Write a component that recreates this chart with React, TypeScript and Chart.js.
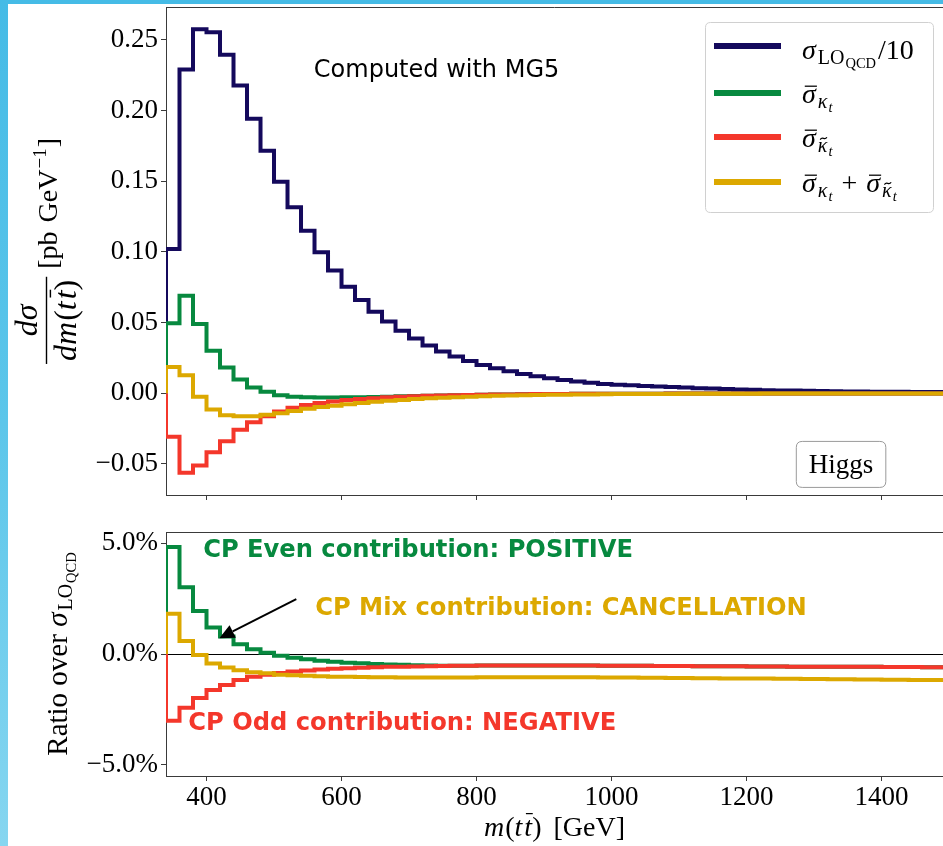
import React, { useEffect, useRef } from 'react';
import { Chart, registerables } from 'chart.js';

Chart.register(...registerables);

// ---------------- data ----------------
const binEdges = [
  340, 360, 380, 400, 420, 440, 460, 480, 500, 520,
  540, 560, 580, 600, 620, 640, 660, 680, 700, 720,
  740, 760, 780, 800, 820, 840, 860, 880, 900, 920,
  940, 960, 980, 1000, 1020, 1040, 1060, 1080, 1100, 1120,
  1140, 1160, 1180, 1200, 1220, 1240, 1260, 1280, 1300, 1320,
  1340, 1360, 1380, 1400, 1420, 1440, 1460, 1480,
];
const binEnd = 1500;

// sigma_LO_QCD / 10  [pb/GeV]
const sigmaLOover10 = [
  0.102, 0.229, 0.2576, 0.2555, 0.2395, 0.2177, 0.1942, 0.1715, 0.1497, 0.1316,
  0.115, 0.0997, 0.0868, 0.0754, 0.066, 0.0577, 0.0507, 0.0443, 0.0388, 0.0337,
  0.0296, 0.026, 0.0229, 0.02, 0.0176, 0.0155, 0.0136, 0.012, 0.0106, 0.0094,
  0.0083, 0.0074, 0.0066, 0.006, 0.0056, 0.0052, 0.0048, 0.0044, 0.004, 0.0036,
  0.0033, 0.003, 0.0027, 0.0025, 0.0022, 0.002, 0.0019, 0.0017, 0.0016, 0.0014,
  0.0013, 0.0012, 0.0011, 0.001, 0.001, 0.0009, 0.0008, 0.0008,
];
// sigma-bar kappa_t (CP even)
const sigmaKt = [
  0.0495, 0.069, 0.049, 0.03, 0.0182, 0.0098, 0.0041, 0.001, -0.0015, -0.0024,
  -0.0029, -0.003, -0.003, -0.0029, -0.0028, -0.0026, -0.0024, -0.0022, -0.002, -0.0018,
  -0.0016, -0.0014, -0.0012, -0.0011, -0.0009, -0.0008, -0.0007, -0.0006, -0.0006, -0.0005,
  -0.0004, -0.0004, -0.0003, -0.0003, -0.0003, -0.0003, -0.0003, -0.0002, -0.0002, -0.0002,
  -0.0002, -0.0002, -0.0001, -0.0001, -0.0001, -0.0001, -0.0001, -0.0001, -0.0001, -0.0001,
  -0.0001, -0.0001, -0.0001, -0.0001, -0.0001, -0.0001, -0.0001, -0.0001,
];
// sigma-bar kappa-tilde_t (CP odd)
const sigmaKtTilde = [
  -0.0307, -0.0562, -0.0512, -0.0418, -0.034, -0.0258, -0.0205, -0.0163, -0.013, -0.0103,
  -0.0083, -0.0069, -0.0058, -0.0048, -0.0041, -0.0035, -0.0029, -0.0025, -0.0022, -0.0018,
  -0.0016, -0.0014, -0.0012, -0.001, -0.0009, -0.0008, -0.0007, -0.0006, -0.0006, -0.0005,
  -0.0004, -0.0004, -0.0003, -0.0003, -0.0003, -0.0003, -0.0003, -0.0002, -0.0002, -0.0002,
  -0.0002, -0.0002, -0.0002, -0.0001, -0.0001, -0.0001, -0.0001, -0.0001, -0.0001, -0.0001,
  -0.0001, -0.0001, -0.0001, -0.0001, -0.0001, -0.0001, -0.0001, -0.0001,
];
// sum (CP mix)
const sigmaSum = [
  0.0186, 0.0127, -0.0024, -0.0115, -0.0156, -0.0162, -0.0162, -0.0153, -0.0142, -0.0125,
  -0.011, -0.0098, -0.0088, -0.0077, -0.0069, -0.0061, -0.0053, -0.0047, -0.0041, -0.0036,
  -0.0032, -0.0028, -0.0024, -0.0021, -0.0018, -0.0016, -0.0014, -0.0013, -0.0011, -0.001,
  -0.0009, -0.0008, -0.0007, -0.0006, -0.0006, -0.0005, -0.0005, -0.0005, -0.0004, -0.0004,
  -0.0004, -0.0003, -0.0003, -0.0003, -0.0002, -0.0002, -0.0002, -0.0002, -0.0002, -0.0002,
  -0.0001, -0.0001, -0.0001, -0.0001, -0.0001, -0.0001, -0.0001, -0.0001,
];
// ratios over sigma_LO_QCD [%]
const ratioKt = [
  4.82, 3.01, 1.94, 1.19, 0.79, 0.44, 0.21, 0.06, -0.08, -0.17,
  -0.24, -0.3, -0.35, -0.39, -0.42, -0.45, -0.47, -0.49, -0.51, -0.52,
  -0.53, -0.53, -0.53, -0.52, -0.52, -0.52, -0.52, -0.52, -0.52, -0.52,
  -0.52, -0.52, -0.53, -0.53, -0.53, -0.53, -0.54, -0.54, -0.54, -0.55,
  -0.55, -0.55, -0.55, -0.56, -0.56, -0.56, -0.57, -0.57, -0.57, -0.58,
  -0.58, -0.58, -0.58, -0.59, -0.59, -0.59, -0.6, -0.6,
];
const ratioKtTilde = [
  -3.01, -2.42, -1.98, -1.62, -1.4, -1.17, -1.03, -0.93, -0.86, -0.79,
  -0.74, -0.7, -0.67, -0.64, -0.62, -0.6, -0.58, -0.57, -0.56, -0.55,
  -0.54, -0.53, -0.53, -0.52, -0.52, -0.52, -0.52, -0.52, -0.52, -0.52,
  -0.52, -0.52, -0.53, -0.53, -0.53, -0.53, -0.54, -0.54, -0.54, -0.55,
  -0.55, -0.55, -0.55, -0.56, -0.56, -0.56, -0.57, -0.57, -0.57, -0.58,
  -0.58, -0.58, -0.58, -0.59, -0.59, -0.59, -0.6, -0.6,
];
const ratioSum = [
  1.81, 0.59, -0.04, -0.43, -0.61, -0.73, -0.82, -0.87, -0.94, -0.96,
  -0.98, -1.0, -1.02, -1.03, -1.04, -1.05, -1.05, -1.06, -1.06, -1.06,
  -1.06, -1.06, -1.06, -1.05, -1.05, -1.05, -1.05, -1.05, -1.05, -1.05,
  -1.05, -1.05, -1.06, -1.06, -1.06, -1.07, -1.07, -1.08, -1.08, -1.09,
  -1.09, -1.1, -1.1, -1.11, -1.11, -1.12, -1.12, -1.13, -1.13, -1.14,
  -1.14, -1.15, -1.15, -1.16, -1.16, -1.17, -1.17, -1.17,
];

const xTicks = [400, 600, 800, 1000, 1200, 1400];
const topYTicks = [-0.05, 0, 0.05, 0.1, 0.15, 0.2, 0.25];
const ratioYTicks = [-5, 0, 5];
const xRange = [340, 1491];
const topYRange = [-0.072, 0.2733];
const ratioYRange = [-5.5, 5.5];

const annotationTop = 'Computed with MG5';
const boxLabel = 'Higgs';
const cpEven = 'CP Even contribution: POSITIVE';
const cpMix = 'CP Mix contribution: CANCELLATION';
const cpOdd = 'CP Odd contribution: NEGATIVE';

// ---------------- styling ----------------
const C_LO = '#14095c';
const C_KT = '#07893f';
const C_KTT = '#f4372b';
const C_SUM = '#dca800';
const AXIS = '#3a3a3a';
const SERIF = '"Liberation Serif", "Times New Roman", serif';
const SANS = '"DejaVu Sans", sans-serif';

type Run = { t: string; s: number; it?: boolean; dy?: number; bar?: number; tilde?: boolean; pre?: number; post?: number };

const fontOf = (r: Run) => `${r.it ? 'italic ' : ''}${r.s}px ${SERIF}`;

function drawRuns(ctx: CanvasRenderingContext2D, runs: Run[], x: number, y: number, draw = true) {
  let cx = x;
  ctx.textAlign = 'left';
  ctx.textBaseline = 'alphabetic';
  for (const r of runs) {
    ctx.font = fontOf(r);
    cx += r.pre || 0;
    const w = ctx.measureText(r.t).width;
    const by = y + (r.dy || 0);
    if (draw) {
      ctx.fillText(r.t, cx, by);
      if (r.bar) {
        const yy = by - r.s * r.bar;
        ctx.lineWidth = Math.max(1, r.s * 0.045);
        ctx.beginPath();
        ctx.moveTo(cx + w * 0.2, yy);
        ctx.lineTo(cx + w * 1.08, yy);
        ctx.stroke();
      }
      if (r.tilde) {
        const tx = cx + w * 0.25, tw = w * 0.7, ty = by - r.s * 0.68, a = r.s * 0.06;
        ctx.lineWidth = Math.max(1, r.s * 0.06);
        ctx.beginPath();
        ctx.moveTo(tx, ty + a);
        ctx.bezierCurveTo(tx + tw * 0.35, ty - a * 2.2, tx + tw * 0.65, ty + a * 2.2, tx + tw, ty - a);
        ctx.stroke();
      }
    }
    cx += w + (r.post || 0);
  }
  return cx - x;
}

const S = 28, SUB = 20, SUBSUB = 14.5;
const runSigmaLO: Run[] = [
  { t: 'σ', s: S, it: true, post: 1 },
  { t: 'LO', s: SUB, dy: 5, pre: 1 },
  { t: 'QCD', s: SUBSUB, dy: 9, pre: 1 },
];
const runSigKt: Run[] = [
  { t: 'σ', s: S, it: true, bar: 0.6 },
  { t: 'κ', s: SUB, it: true, dy: 5, pre: 2 },
  { t: 't', s: SUBSUB, it: true, dy: 9, pre: 1 },
];
const runSigKtt: Run[] = [
  { t: 'σ', s: S, it: true, bar: 0.6 },
  { t: 'κ', s: SUB, it: true, dy: 5, pre: 2, tilde: true },
  { t: 't', s: SUBSUB, it: true, dy: 9, pre: 1 },
];
const legendLabels: Run[][] = [
  [...runSigmaLO, { t: '/10', s: S, pre: 2 }],
  runSigKt,
  runSigKtt,
  [...runSigKt, { t: ' + ', s: S, pre: 2, post: 2 }, ...runSigKtt],
];
const legendColors = [C_LO, C_KT, C_KTT, C_SUM];

const fmt = (v: number, d: number, suffix = '') =>
  (v < 0 ? '\u2212' + Math.abs(v).toFixed(d) : v.toFixed(d)) + suffix;

const stepData = (vals: number[]) => [
  { x: binEdges[0], y: 0 },
  ...binEdges.map((e, i) => ({ x: e, y: vals[i] })),
  { x: binEnd, y: vals[vals.length - 1] },
];

const ds = (label: string, vals: number[], color: string, order: number) => ({
  label,
  data: stepData(vals),
  borderColor: color,
  backgroundColor: color,
  borderWidth: 4,
  pointRadius: 0,
  stepped: 'before',
  fill: false,
  order,
  clip: 0,
  borderJoinStyle: 'miter',
  borderCapStyle: 'butt',
});

const gridOpts = { drawOnChartArea: false, drawTicks: true, tickLength: 5, tickColor: AXIS, lineWidth: 1 };
const borderOpts = { display: true, color: AXIS, width: 1 };
const tickFont = { family: SERIF, size: 27 };

function zeroPad(s: any) {
  s.paddingTop = 0;
  s.paddingBottom = 0;
  s.paddingLeft = 0;
  s.paddingRight = 0;
}

function xScale(showLabels: boolean, height: number): any {
  return {
    type: 'linear',
    min: xRange[0],
    max: xRange[1],
    afterBuildTicks: (s: any) => { s.ticks = xTicks.map((v) => ({ value: v })); },
    afterFit: (s: any) => { s.height = height; zeroPad(s); },
    grid: gridOpts,
    border: borderOpts,
    ticks: {
      display: showLabels,
      font: tickFont,
      color: '#000',
      padding: 1,
      maxRotation: 0,
      autoSkip: false,
      callback: (v: number) => String(v),
    },
  };
}

function frameTop(chart: any) {
  const { ctx, chartArea } = chart;
  ctx.save();
  ctx.strokeStyle = AXIS;
  ctx.lineWidth = 1;
  const y = Math.round(chartArea.top) + 0.5;
  ctx.beginPath();
  ctx.moveTo(chartArea.left, y);
  ctx.lineTo(chartArea.right, y);
  ctx.stroke();
  ctx.restore();
}

function roundRect(ctx: CanvasRenderingContext2D, x: number, y: number, w: number, h: number, r: number) {
  ctx.beginPath();
  ctx.moveTo(x + r, y);
  ctx.lineTo(x + w - r, y);
  ctx.quadraticCurveTo(x + w, y, x + w, y + r);
  ctx.lineTo(x + w, y + h - r);
  ctx.quadraticCurveTo(x + w, y + h, x + w - r, y + h);
  ctx.lineTo(x + r, y + h);
  ctx.quadraticCurveTo(x, y + h, x, y + h - r);
  ctx.lineTo(x, y + r);
  ctx.quadraticCurveTo(x, y, x + r, y);
  ctx.closePath();
}

const topPlugin = {
  id: 'topDecor',
  afterDraw(chart: any) {
    const { ctx, scales } = chart;
    const xs = scales.x, ys = scales.y;
    frameTop(chart);
    ctx.save();

    // legend
    const lx = 705, ly = 22, lw = 228, lh = 190;
    roundRect(ctx, lx + 0.5, ly + 0.5, lw, lh, 5);
    ctx.fillStyle = 'rgba(255,255,255,0.85)';
    ctx.fill();
    ctx.strokeStyle = '#d0d0d0';
    ctx.lineWidth = 1;
    ctx.stroke();
    const rowY = [46, 93, 137, 182];
    legendLabels.forEach((runs, i) => {
      ctx.strokeStyle = legendColors[i];
      ctx.lineWidth = 6;
      ctx.beginPath();
      ctx.moveTo(714, rowY[i]);
      ctx.lineTo(781, rowY[i]);
      ctx.stroke();
      ctx.fillStyle = '#000';
      ctx.strokeStyle = '#000';
      drawRuns(ctx, runs, 802, rowY[i] + (i === 0 ? 13 : 10));
    });

    // annotation text
    ctx.fillStyle = '#000';
    ctx.font = `24px ${SANS}`;
    ctx.textAlign = 'left';
    ctx.textBaseline = 'alphabetic';
    ctx.fillText(annotationTop, xs.getPixelForValue(559), ys.getPixelForValue(0.2235));

    // Higgs box
    const hx = xs.getPixelForValue(1340), hy = ys.getPixelForValue(-0.05);
    ctx.font = `27px ${SERIF}`;
    const hw = ctx.measureText(boxLabel).width;
    roundRect(ctx, hx - hw / 2 - 12.5, hy - 22.5, hw + 25, 46, 6);
    ctx.fillStyle = '#fff';
    ctx.fill();
    ctx.strokeStyle = '#9a9a9a';
    ctx.lineWidth = 1;
    ctx.stroke();
    ctx.fillStyle = '#000';
    ctx.textAlign = 'center';
    ctx.fillText(boxLabel, hx, hy + 9);

    // y axis label (rotated)
    ctx.fillStyle = '#000';
    ctx.strokeStyle = '#000';
    const num: Run[] = [{ t: 'dσ', s: 32, it: true }];
    const den: Run[] = [
      { t: 'dm', s: 32, it: true, post: 1 },
      { t: '(', s: 32 },
      { t: 't', s: 32, it: true, post: 2 },
      { t: 't', s: 32, it: true, bar: 0.8 },
      { t: ')', s: 32 },
    ];
    const unit: Run[] = [
      { t: '[pb', s: 28 },
      { t: ' GeV', s: 28, pre: 2 },
      { t: '\u22121', s: 19, dy: -11, pre: 1 },
      { t: ']', s: 28, pre: 1 },
    ];
    const numW = drawRuns(ctx, num, 0, 0, false);
    const denW = drawRuns(ctx, den, 0, 0, false);
    const unitW = drawRuns(ctx, unit, 0, 0, false);
    const fracW = Math.max(numW, denW) + 6;
    const gap = 8;
    const L = fracW + gap + unitW;
    const cy = (chart.chartArea.top + chart.chartArea.bottom) / 2;
    ctx.save();
    ctx.translate(0, cy);
    ctx.rotate(-Math.PI / 2);
    const lx0 = -L / 2;
    drawRuns(ctx, num, lx0 + (fracW - numW) / 2, 37);
    ctx.lineWidth = 1.4;
    ctx.beginPath();
    ctx.moveTo(lx0, 46.5);
    ctx.lineTo(lx0 + fracW, 46.5);
    ctx.stroke();
    drawRuns(ctx, den, lx0 + (fracW - denW) / 2, 76);
    drawRuns(ctx, unit, lx0 + fracW + gap, 57);
    ctx.restore();

    ctx.restore();
  },
};

const bottomPlugin = {
  id: 'bottomDecor',
  beforeDatasetsDraw(chart: any) {
    const { ctx, chartArea, scales } = chart;
    const y0 = Math.round(scales.y.getPixelForValue(0)) + 0.5;
    ctx.save();
    ctx.strokeStyle = '#000';
    ctx.lineWidth = 1.2;
    ctx.beginPath();
    ctx.moveTo(chartArea.left, y0);
    ctx.lineTo(chartArea.right, y0);
    ctx.stroke();
    ctx.restore();
  },
  afterDraw(chart: any) {
    const { ctx, scales, chartArea } = chart;
    const xs = scales.x, ys = scales.y;
    frameTop(chart);
    ctx.save();

    ctx.font = `bold 24.2px ${SANS}`;
    ctx.textAlign = 'left';
    ctx.textBaseline = 'alphabetic';
    ctx.fillStyle = C_KT;
    ctx.fillText(cpEven, xs.getPixelForValue(395), ys.getPixelForValue(4.38));
    ctx.fillStyle = C_SUM;
    ctx.fillText(cpMix, xs.getPixelForValue(561), ys.getPixelForValue(1.76));
    ctx.fillStyle = C_KTT;
    ctx.fillText(cpOdd, xs.getPixelForValue(373), ys.getPixelForValue(-3.43));

    // arrow
    const ax0 = xs.getPixelForValue(533), ay0 = ys.getPixelForValue(2.47);
    const ax1 = xs.getPixelForValue(419), ay1 = ys.getPixelForValue(0.71);
    const ang = Math.atan2(ay1 - ay0, ax1 - ax0);
    const hl = 15, hw = 7;
    const bx = ax1 - hl * Math.cos(ang), by = ay1 - hl * Math.sin(ang);
    ctx.strokeStyle = '#000';
    ctx.fillStyle = '#000';
    ctx.lineWidth = 2;
    ctx.beginPath();
    ctx.moveTo(ax0, ay0);
    ctx.lineTo(bx, by);
    ctx.stroke();
    ctx.beginPath();
    ctx.moveTo(ax1, ay1);
    ctx.lineTo(bx + hw * Math.sin(ang), by - hw * Math.cos(ang));
    ctx.lineTo(bx - hw * Math.sin(ang), by + hw * Math.cos(ang));
    ctx.closePath();
    ctx.fill();

    // y label (rotated)
    ctx.fillStyle = '#000';
    ctx.strokeStyle = '#000';
    const yl: Run[] = [
      { t: 'Ratio over ', s: 29 },
      { t: 'σ', s: 29, it: true, post: 1 },
      { t: 'LO', s: 20, dy: 5, pre: 1 },
      { t: 'QCD', s: 14.5, dy: 9, pre: 1 },
    ];
    const ylW = drawRuns(ctx, yl, 0, 0, false);
    const cy = (chartArea.top + chartArea.bottom) / 2;
    ctx.save();
    ctx.translate(0, cy);
    ctx.rotate(-Math.PI / 2);
    drawRuns(ctx, yl, -ylW / 2, 67);
    ctx.restore();

    // x label
    const xl: Run[] = [
      { t: 'm', s: 28, it: true, post: 1 },
      { t: '(', s: 28 },
      { t: 't', s: 28, it: true, post: 2 },
      { t: 't', s: 28, it: true, bar: 0.8 },
      { t: ')', s: 28 },
      { t: ' [GeV]', s: 28, pre: 5 },
    ];
    const xlW = drawRuns(ctx, xl, 0, 0, false);
    const cx = (chartArea.left + chartArea.right) / 2;
    drawRuns(ctx, xl, cx - xlW / 2, 836);

    ctx.restore();
  },
};

export default function App() {
  const topRef = useRef<HTMLCanvasElement>(null);
  const botRef = useRef<HTMLCanvasElement>(null);

  useEffect(() => {
    const H = 846;
    const topBottom = 495;
    const topXH = 10;
    const c1 = new Chart(topRef.current as HTMLCanvasElement, {
      type: 'line',
      data: {
        datasets: [
          ds('sigma LO/10', sigmaLOover10, C_LO, 4),
          ds('sigma kt', sigmaKt, C_KT, 3),
          ds('sigma ktt', sigmaKtTilde, C_KTT, 2),
          ds('sum', sigmaSum, C_SUM, 1),
        ] as any,
      },
      options: {
        responsive: false,
        maintainAspectRatio: false,
        animation: false,
        layout: { autoPadding: false, padding: { left: 0, right: 0, top: 7, bottom: H - topBottom - topXH } },
        plugins: { legend: { display: false }, tooltip: { enabled: false } },
        events: [],
        scales: {
          x: xScale(false, topXH),
          y: {
            type: 'linear',
            min: topYRange[0],
            max: topYRange[1],
            afterBuildTicks: (s: any) => { s.ticks = topYTicks.map((v) => ({ value: v })); },
            afterFit: (s: any) => { s.width = 166; zeroPad(s); },
            grid: gridOpts,
            border: borderOpts,
            ticks: { font: tickFont, color: '#000', padding: 3, callback: (v: number) => fmt(v, 2) },
          },
        },
      } as any,
      plugins: [topPlugin],
    });

    const c2 = new Chart(botRef.current as HTMLCanvasElement, {
      type: 'line',
      data: {
        datasets: [
          ds('ratio kt', ratioKt, C_KT, 3),
          ds('ratio ktt', ratioKtTilde, C_KTT, 2),
          ds('ratio sum', ratioSum, C_SUM, 1),
        ] as any,
      },
      options: {
        responsive: false,
        maintainAspectRatio: false,
        animation: false,
        layout: { autoPadding: false, padding: { left: 0, right: 0, top: 532, bottom: 0 } },
        plugins: { legend: { display: false }, tooltip: { enabled: false } },
        events: [],
        scales: {
          x: xScale(true, 70),
          y: {
            type: 'linear',
            min: ratioYRange[0],
            max: ratioYRange[1],
            afterBuildTicks: (s: any) => { s.ticks = ratioYTicks.map((v) => ({ value: v })); },
            afterFit: (s: any) => { s.width = 166; zeroPad(s); },
            grid: gridOpts,
            border: borderOpts,
            ticks: { font: tickFont, color: '#000', padding: 3, callback: (v: number) => fmt(v, 1, '%') },
          },
        },
      } as any,
      plugins: [bottomPlugin],
    });

    return () => {
      c1.destroy();
      c2.destroy();
    };
  }, []);

  return (
    <div
      style={{
        position: 'fixed',
        left: 0,
        top: 0,
        width: 943,
        height: 846,
        overflow: 'hidden',
        background: 'linear-gradient(180deg, #45bbe6 0%, #5cc6ea 50%, #86d6f0 100%)',
      }}
    >
      <div style={{ position: 'absolute', left: 8, top: 4, right: 0, bottom: 0, background: '#fff' }} />
      <canvas ref={topRef} width={943} height={846} style={{ position: 'absolute', left: 0, top: 0 }} />
      <canvas ref={botRef} width={943} height={846} style={{ position: 'absolute', left: 0, top: 0 }} />
    </div>
  );
}
